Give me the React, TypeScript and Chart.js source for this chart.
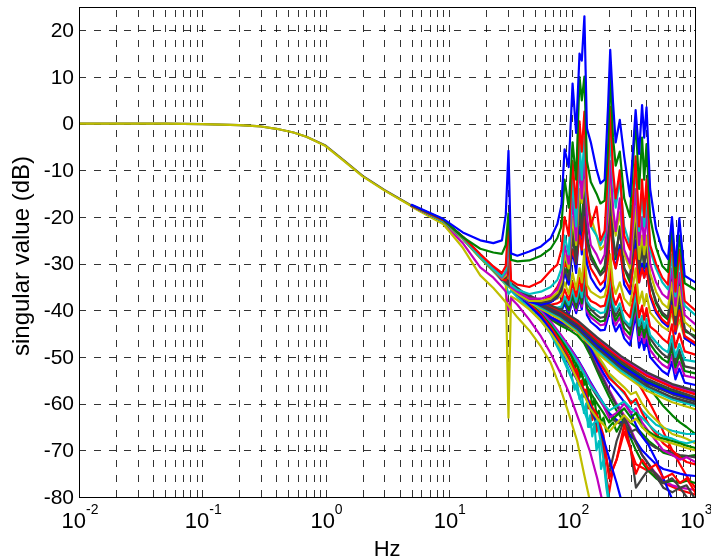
import { useEffect, useRef } from "react";
import { Chart, registerables } from "chart.js";

Chart.register(...registerables);

// ---------- axes ----------
const xMin = 0.01;
const xMax = 1000;
const yMin = -80;
const yMax = 25;
const yTicks = [20, 10, 0, -10, -20, -30, -40, -50, -60, -70, -80];
const xDecades = [0.01, 0.1, 1, 10, 100, 1000];
const xExponents = ["-2", "-1", "0", "1", "2", "3"];
const xTitle = "Hz";
const yTitle = "singular value (dB)";

// ---------- frequency grids (Hz) ----------
const FL = [0.01, 0.02, 0.05, 0.1, 0.2, 0.3, 0.4, 0.55, 0.7, 1, 1.4, 2, 3, 5];
const FB = [5, 9, 13, 18, 23, 30, 40, 56, 80, 110, 160, 250, 400, 650, 1000];
const FH = [5, 9, 13, 18, 23, 27, 29, 30.5, 32, 36, 45, 56, 67, 76, 82, 87, 94, 101, 108, 115, 120, 126, 132, 142, 158, 170, 184, 196, 204, 215, 226, 244, 265, 295, 328, 350, 370, 385, 402, 430, 480, 540, 600, 647, 690, 742, 820, 1000];
const FD = [5, 9, 13, 18, 23, 27, 29, 30.5, 32, 36, 45, 56, 67, 80, 95, 110, 125, 140, 160, 180, 200, 230, 265, 300, 330, 370, 420, 480, 550, 650, 750, 850, 1000];
const FN = [5, 9, 13, 18, 23, 30, 40, 56, 70, 85, 95, 100, 105, 110, 115, 120, 125, 130, 135, 140, 146, 152, 158, 165, 172, 180, 190, 200, 215, 230, 265, 330, 420, 550, 750, 1000];

// ---------- low-frequency common part (dB, on FL) ----------
const lowGray = [0, 0, 0, -0.1, -0.3, -0.6, -1.1, -1.9, -2.8, -4.7, -7.8, -11.2, -14.2, -17.6];
const lowYellow = [0, 0, 0, -0.1, -0.3, -0.6, -1.1, -1.9, -2.8, -4.8, -7.9, -11.3, -14.3, -17.7];

// ---------- upper singular values with resonances (dB, on FH) ----------
const upBlue = [-17.4, -20.4, -23.3, -25.0, -25.6, -25.0, -19.5, -5.8, -27.8, -28.3, -27.4, -26.3, -24.6, -21.5, -17.5, -5.5, -9.3, 8.6, -2.0, 15.0, 13.5, 23.0, -1.0, -4.0, -9.8, -12.8, -12.0, 3.7, 15.8, 4.5, -4.0, 0.8, -7.0, -15.6, 2.9, -6.5, 4.0, -3.0, 3.5, -14.0, -22.5, -27.0, -29.0, -20.0, -30.5, -20.3, -32.6, -34.0];
const upGreen = [-17.5, -20.5, -24.3, -26.8, -27.6, -27.9, -26.0, -19.2, -29.2, -29.5, -29.3, -28.3, -26.8, -24.5, -22.0, -12.0, -18.0, -4.0, -12.0, 10.0, 5.0, 10.1, -8.0, -12.5, -15.0, -17.1, -16.5, -5.0, 11.5, -3.0, -9.0, -6.0, -16.0, -20.0, 1.1, -14.0, -3.0, -12.0, -4.4, -20.0, -26.5, -30.5, -31.8, -21.4, -33.0, -24.0, -34.2, -35.6];
const upRed = [-17.6, -20.7, -24.3, -28.0, -30.6, -32.0, -30.5, -20.5, -33.6, -34.5, -35.0, -33.8, -31.5, -30.2, -27.0, -20.0, -24.0, -8.0, -18.0, 0.5, -6.0, 2.6, -14.0, -22.0, -17.8, -25.0, -23.0, -10.0, 3.6, -10.0, -16.0, -10.0, -24.0, -27.0, -7.0, -22.0, -12.0, -20.0, -12.0, -26.0, -30.0, -33.0, -34.5, -24.0, -36.0, -27.0, -38.0, -40.0];
const upCyan = [-17.6, -20.9, -24.5, -28.5, -31.2, -32.8, -31.5, -23.5, -34.6, -35.6, -36.5, -36.0, -35.0, -33.5, -31.0, -24.0, -28.0, -12.0, -22.0, -4.0, -12.0, -2.8, -16.0, -22.0, -24.0, -26.0, -24.0, -14.0, -2.0, -12.0, -18.0, -12.0, -22.0, -26.0, -9.0, -23.0, -15.0, -22.0, -15.0, -27.0, -31.0, -34.0, -35.5, -28.0, -37.0, -29.0, -39.0, -41.0];
const upMagenta = [-17.6, -20.8, -24.4, -28.4, -31.0, -33.0, -32.0, -25.0, -35.0, -36.0, -37.5, -37.5, -36.8, -35.5, -33.0, -26.0, -30.0, -16.0, -25.0, -8.0, -16.0, -6.0, -20.0, -26.0, -28.0, -30.0, -28.0, -18.0, -8.0, -18.0, -23.0, -16.0, -27.0, -30.0, -14.0, -26.0, -20.0, -26.0, -19.0, -30.0, -34.0, -36.5, -37.5, -31.0, -39.0, -32.0, -41.0, -43.0];
const upYellow = [-17.6, -20.9, -24.6, -28.6, -31.3, -33.2, -32.5, -26.0, -35.3, -36.5, -38.0, -38.0, -37.5, -36.2, -34.0, -28.0, -31.0, -20.0, -26.0, -14.0, -17.0, -12.0, -18.0, -20.0, -24.0, -27.0, -26.0, -20.0, -12.0, -20.0, -24.0, -19.0, -28.0, -31.0, -18.0, -29.0, -24.0, -28.0, -24.0, -32.0, -36.0, -38.5, -39.5, -34.0, -41.0, -35.0, -42.5, -44.5];
const upGray = [-17.6, -20.9, -24.5, -28.5, -31.2, -33.1, -33.0, -28.0, -35.0, -36.3, -37.8, -38.3, -38.0, -37.0, -35.5, -31.0, -33.5, -24.0, -30.0, -19.0, -23.0, -15.6, -25.0, -29.0, -31.0, -32.5, -31.5, -25.0, -14.0, -25.0, -28.0, -23.0, -31.0, -33.0, -22.0, -31.0, -27.0, -30.0, -27.0, -34.0, -38.0, -40.5, -41.5, -36.0, -43.0, -37.0, -44.0, -46.0];
const upRed2 = [-17.6, -20.8, -24.4, -28.3, -31.0, -33.4, -33.6, -31.0, -34.8, -36.3, -37.5, -38.2, -37.0, -35.0, -33.0, -30.0, -31.0, -27.0, -30.0, -24.0, -27.0, -20.0, -28.0, -31.0, -33.0, -34.5, -33.5, -29.0, -20.0, -29.0, -31.0, -27.0, -33.0, -35.5, -27.0, -34.0, -31.0, -33.0, -31.0, -36.5, -40.0, -42.0, -43.0, -39.0, -44.5, -40.0, -45.5, -47.0];
const upBlue2 = [-17.6, -20.8, -24.5, -28.4, -31.1, -33.5, -33.4, -30.0, -35.2, -36.6, -38.2, -38.8, -38.3, -37.2, -35.8, -32.0, -34.5, -27.0, -32.0, -22.0, -28.0, -18.0, -30.0, -33.0, -35.0, -36.0, -35.0, -28.0, -17.0, -28.0, -31.0, -26.0, -34.5, -36.5, -25.0, -34.0, -30.0, -33.0, -30.0, -37.0, -40.5, -42.5, -43.5, -37.0, -45.0, -39.0, -46.0, -47.5];
const upGreen2 = [-17.6, -20.9, -24.5, -28.5, -31.2, -33.4, -33.2, -29.0, -35.0, -36.4, -37.9, -38.5, -38.0, -36.5, -34.5, -29.0, -32.5, -22.0, -29.0, -16.0, -24.0, -10.0, -24.0, -28.0, -30.5, -32.0, -30.5, -24.0, -11.0, -24.0, -29.0, -22.0, -31.0, -34.0, -20.0, -32.0, -26.0, -31.0, -25.0, -34.0, -38.5, -41.0, -42.0, -33.0, -43.5, -34.0, -44.5, -45.5];

// ---------- middle singular values (dB, on FH) ----------
const midYellow = [-17.6, -20.9, -24.5, -28.5, -31.2, -33.2, -33.8, -32.0, -34.8, -36.0, -37.5, -38.3, -38.0, -37.5, -36.8, -34.0, -36.5, -32.0, -35.5, -31.0, -34.0, -27.0, -34.5, -36.0, -36.8, -37.3, -37.0, -34.0, -28.0, -34.5, -36.5, -34.0, -37.5, -39.0, -31.0, -38.5, -36.0, -39.0, -36.5, -40.5, -42.0, -43.5, -44.3, -40.0, -45.0, -42.0, -46.0, -47.0];
const midRed = [-17.6, -20.8, -24.4, -28.3, -31.0, -33.1, -33.7, -32.5, -34.7, -35.9, -37.4, -38.5, -38.8, -38.5, -38.0, -35.5, -37.8, -34.0, -37.0, -33.0, -35.8, -30.0, -36.8, -38.0, -38.6, -39.2, -39.0, -36.0, -31.0, -37.0, -38.8, -36.5, -40.0, -41.5, -34.5, -41.5, -39.0, -42.0, -39.5, -43.5, -44.5, -46.0, -47.0, -43.0, -48.0, -45.0, -48.8, -49.5];
const midCyan = [-17.6, -20.9, -24.5, -28.5, -31.2, -33.3, -33.9, -33.2, -34.9, -36.1, -37.6, -38.7, -39.3, -39.4, -39.2, -37.0, -38.8, -35.5, -38.2, -34.8, -37.2, -31.5, -38.0, -39.3, -40.0, -40.6, -40.4, -37.5, -32.5, -38.5, -40.2, -38.5, -42.0, -43.3, -36.5, -43.3, -41.2, -43.8, -41.8, -45.3, -46.8, -48.2, -49.0, -45.5, -50.0, -47.2, -50.6, -51.0];
const midGray = [-17.6, -20.8, -24.4, -28.3, -31.0, -33.0, -33.6, -33.0, -34.6, -35.8, -37.3, -38.6, -39.3, -39.6, -39.5, -37.5, -39.2, -36.0, -38.8, -35.5, -37.5, -32.0, -38.5, -39.8, -41.0, -41.6, -41.4, -38.5, -33.5, -39.5, -41.2, -39.5, -42.5, -44.0, -37.5, -44.0, -42.0, -44.5, -42.5, -46.0, -47.8, -49.3, -50.2, -47.0, -51.2, -48.5, -52.0, -52.5];
const midGreen = [-17.6, -20.8, -24.4, -28.4, -31.1, -33.2, -33.8, -33.0, -34.8, -36.0, -37.6, -38.8, -39.5, -39.8, -39.8, -37.8, -40.0, -37.0, -39.5, -36.3, -38.5, -33.0, -39.5, -40.8, -41.8, -42.4, -42.2, -39.5, -35.0, -40.5, -42.2, -40.5, -43.8, -45.2, -38.5, -45.3, -43.2, -45.8, -43.5, -47.2, -49.0, -50.4, -51.2, -48.0, -52.2, -49.5, -53.0, -53.5];
const midMagenta = [-17.6, -20.8, -24.4, -28.4, -31.1, -33.2, -33.8, -32.8, -34.8, -36.0, -37.5, -38.7, -39.4, -39.6, -39.5, -37.2, -40.3, -37.5, -40.0, -37.0, -39.2, -34.0, -40.2, -41.5, -42.5, -43.2, -43.0, -40.5, -36.0, -41.5, -43.2, -41.5, -44.8, -46.2, -39.5, -46.5, -44.5, -47.0, -44.8, -48.5, -50.2, -51.6, -52.4, -49.5, -53.4, -51.0, -54.0, -54.5];
const midBlue = [-17.6, -20.8, -24.5, -28.4, -31.1, -33.3, -33.9, -33.5, -34.9, -36.1, -37.7, -39.0, -39.8, -40.3, -40.3, -38.5, -40.8, -38.0, -40.6, -37.5, -39.8, -34.5, -41.0, -42.5, -43.5, -44.3, -44.2, -41.5, -37.0, -42.8, -44.5, -43.0, -46.0, -47.5, -41.0, -48.0, -46.0, -48.5, -46.2, -50.0, -51.5, -53.0, -53.8, -51.0, -54.8, -52.5, -55.5, -56.0];

// ---------- main smooth bundle (dB, on FB) ----------
const bun1 = [-17.6, -20.7, -24.2, -28.0, -30.7, -33.6, -36.1, -38.0, -39.8, -42.1, -45.8, -49.8, -53.2, -55.8, -57.2];
const bun2 = [-17.6, -20.8, -24.4, -28.3, -31.0, -34.0, -36.5, -38.6, -40.6, -43.1, -47.0, -51.0, -54.6, -57.0, -58.6];
const bun3 = [-17.6, -20.9, -24.6, -28.6, -31.3, -34.4, -37.0, -39.1, -41.2, -43.9, -48.1, -52.4, -56.1, -58.6, -60.0];
const bun4 = [-17.6, -20.8, -24.5, -28.4, -31.2, -34.2, -36.8, -38.9, -40.9, -43.5, -47.6, -51.8, -55.3, -57.7, -59.1];
const bun5 = [-17.6, -20.7, -24.3, -28.1, -30.8, -33.8, -36.3, -38.3, -40.2, -42.6, -46.5, -50.6, -54.0, -56.5, -58.0];
const bun6 = [-17.6, -20.8, -24.4, -28.3, -31.1, -34.1, -36.7, -38.7, -40.7, -43.2, -47.3, -51.5, -55.0, -57.4, -58.9];
const bun7 = [-17.6, -20.7, -24.3, -28.2, -30.9, -33.9, -36.4, -38.4, -40.3, -42.4, -46.2, -50.2, -53.7, -56.2, -57.7];
const bun8 = [-17.6, -20.9, -24.6, -28.7, -31.5, -34.6, -37.2, -39.4, -41.5, -44.2, -48.6, -52.9, -56.6, -59.1, -60.5];
const bun9 = [-17.6, -21.0, -24.7, -28.8, -31.6, -34.8, -37.4, -39.7, -41.9, -44.6, -49.1, -53.4, -57.2, -59.7, -61.2];
const bun10 = [-17.6, -20.9, -24.5, -28.5, -31.2, -34.3, -36.9, -39.0, -41.1, -43.7, -47.9, -52.1, -55.6, -58.0, -59.5];
const bun11 = [-17.6, -20.8, -24.3, -28.2, -30.9, -33.8, -36.3, -38.2, -40.0, -42.3, -46.0, -50.0, -53.4, -56.0, -57.5];
const bun12 = [-17.6, -20.9, -24.5, -28.5, -31.3, -34.5, -37.1, -39.2, -41.3, -44.0, -48.3, -52.6, -56.3, -58.8, -60.2];

// ---------- lower singular values (dB, on FD; shorter ones leave the axes) ----------
const lowA = [-17.8, -21.5, -26.6, -32.5, -35.2, -37.3, -38.3, -39.0, -39.8, -41.5, -44.3, -47.8, -51.2, -56.5, -62.5, -68.0, -75.0, -81.0];
const lowB = [-17.7, -21.3, -25.6, -30.8, -33.0, -35.0, -36.0, -40.0, -37.4, -38.8, -42.0, -45.6, -49.2, -53.3, -57.8, -62.5, -66.5, -70.3, -76.0, -82.0];
const lowC = [-17.6, -20.9, -24.6, -28.6, -31.3, -33.2, -34.0, -63.0, -37.0, -37.8, -39.8, -42.3, -44.8, -47.8, -51.3, -54.8, -58.0, -61.0, -63.2, -64.5, -66.0, -64.2, -62.5, -64.0, -63.2, -65.0, -66.5, -67.5, -68.0, -68.5, -69.0, -69.5, -70.0];
const lowD = [-17.6, -20.9, -24.7, -28.8, -31.6, -33.6, -34.5, -36.5, -35.8, -37.2, -39.6, -42.2, -45.0, -49.0, -53.5, -57.2, -61.5, -65.0, -63.5, -72.0, -81.0];
const lowE = [-17.6, -20.9, -24.5, -28.5, -31.3, -33.4, -34.2, -35.0, -35.0, -36.5, -39.0, -41.4, -44.2, -47.6, -51.6, -55.0, -57.6, -60.5, -64.0, -67.5, -71.7, -77.0, -83.0];
const lowF = [-17.6, -20.8, -24.5, -28.4, -31.2, -33.3, -34.1, -34.6, -34.9, -36.3, -38.6, -41.0, -43.6, -46.6, -50.0, -54.0, -57.0, -60.0, -62.5, -66.8, -76.0, -72.0, -64.5, -70.0, -75.0, -72.0, -74.0, -73.0, -76.0, -75.0, -77.0, -76.0, -79.0];
const lowG = [-17.6, -20.8, -24.5, -28.5, -31.3, -33.4, -34.2, -34.8, -35.0, -36.5, -39.0, -41.5, -44.0, -47.2, -50.5, -54.0, -57.5, -61.0, -64.5, -68.0, -75.0, -68.0, -63.4, -70.0, -78.0, -76.0, -74.0, -75.0, -77.0, -76.0, -78.0, -77.5, -80.5];
const lowH = [-17.6, -20.8, -24.4, -28.4, -31.2, -33.3, -34.1, -34.6, -34.8, -36.2, -38.4, -40.8, -43.2, -46.0, -49.0, -52.0, -55.0, -57.5, -60.0, -62.0, -64.0, -62.5, -61.0, -63.0, -62.0, -65.0, -66.0, -67.0, -67.5, -68.0, -68.5, -69.0, -69.5];
const lowI = [-17.6, -20.8, -24.5, -28.4, -31.2, -33.3, -34.1, -34.6, -34.9, -36.2, -38.3, -40.6, -42.9, -45.6, -48.4, -51.0, -53.5, -56.0, -58.0, -60.0, -61.5, -60.5, -59.5, -61.0, -62.0, -63.0, -64.5, -66.0, -67.0, -67.5, -68.2, -68.5, -68.0];
const lowJ = [-17.6, -20.8, -24.4, -28.3, -31.1, -33.2, -34.0, -34.5, -34.7, -36.0, -38.0, -40.2, -42.4, -45.0, -47.8, -50.5, -53.0, -55.5, -58.0, -60.5, -63.0, -62.0, -60.0, -62.0, -61.0, -64.0, -66.0, -68.0, -70.0, -71.0, -72.0, -71.5, -72.5];
const lowK = [-17.6, -20.8, -24.4, -28.3, -31.0, -33.1, -33.9, -34.3, -34.5, -35.9, -38.0, -39.8, -41.5, -42.5, -43.2, -43.8, -45.5, -48.0, -51.0, -53.5, -55.5, -57.5, -59.6, -62.0, -64.5, -67.0, -69.0, -72.0, -76.0, -80.5];
const lowL = [-17.6, -20.8, -24.4, -28.3, -31.0, -33.1, -33.9, -34.3, -34.5, -35.9, -38.0, -39.9, -41.7, -42.8, -43.6, -44.3, -46.0, -49.0, -52.5, -55.0, -57.5, -60.5, -63.0, -66.0, -68.5, -71.0, -73.0, -75.5, -78.0, -79.0, -78.0, -80.0, -82.0];
const lowM = [-17.6, -20.8, -24.4, -28.3, -31.0, -33.1, -33.9, -34.3, -34.5, -35.9, -37.9, -39.7, -41.4, -42.4, -43.2, -44.2, -46.0, -48.2, -50.5, -52.5, -54.5, -56.0, -57.5, -60.0, -59.0, -62.0, -64.5, -66.5, -68.5, -70.0, -71.5, -72.5, -73.0];
const lowN = [-17.6, -20.8, -24.4, -28.3, -31.0, -33.1, -33.9, -34.3, -34.5, -35.9, -37.9, -39.7, -41.4, -42.4, -43.0, -43.8, -45.0, -47.0, -49.5, -51.5, -53.5, -55.0, -56.5, -58.0, -57.5, -60.0, -62.0, -63.5, -65.0, -66.5, -67.0, -67.5, -68.5];
const lowP = [-17.6, -20.8, -24.5, -28.4, -31.2, -33.3, -34.1, -34.7, -34.9, -36.3, -38.5, -40.9, -43.3, -46.0, -48.0, -51.0, -53.5, -56.0, -58.5, -60.5, -62.5, -64.0, -64.5, -66.0, -65.5, -67.0, -68.5, -69.5, -70.0, -70.5, -71.0, -71.2, -71.5];
const lowQ = [-17.6, -20.8, -24.4, -28.3, -31.1, -33.2, -34.0, -34.5, -34.7, -36.1, -38.2, -40.5, -42.8, -45.3, -47.8, -50.3, -52.8, -55.2, -57.8, -60.0, -62.0, -63.5, -64.5, -67.0, -68.0, -70.0, -71.5, -73.0, -74.0, -74.5, -75.0, -75.3, -75.5];
const lowR = [-17.6, -20.8, -24.4, -28.3, -31.0, -33.1, -33.9, -34.3, -34.5, -35.9, -38.0, -40.0, -41.9, -43.2, -44.2, -45.3, -47.0, -49.5, -53.0, -56.0, -58.5, -61.5, -64.0, -67.5, -70.0, -72.5, -74.5, -76.0, -77.0, -76.5, -77.0, -76.5, -77.0];
const lowS = [-17.6, -20.8, -24.4, -28.3, -31.0, -33.1, -33.9, -34.3, -34.5, -35.9, -37.9, -39.8, -41.6, -42.7, -43.5, -44.4, -45.8, -47.5, -49.8, -52.0, -54.0, -56.0, -57.8, -59.5, -59.8, -61.5, -63.0, -64.5, -65.2, -65.8, -66.2, -66.5, -66.5];
const lowT = [-17.6, -20.8, -24.4, -28.3, -31.0, -33.1, -33.9, -34.3, -34.5, -35.9, -37.9, -39.8, -41.6, -42.8, -43.7, -44.6, -46.2, -48.5, -51.5, -54.5, -57.0, -60.0, -62.5, -65.5, -68.0, -71.0, -73.0, -75.0, -76.5, -77.5, -78.0, -78.2, -78.5];
const lowU = [-17.6, -20.8, -24.4, -28.3, -31.0, -32.9, -33.7, -34.1, -34.4, -35.5, -37.3, -38.6, -39.6, -40.5, -41.7, -43.0, -44.3, -45.5, -47.0, -48.1, -49.0, -50.3, -51.5, -53.5, -55.0, -57.0, -59.5, -62.5, -66.0, -70.0, -73.0, -75.5, -78.0];
const lowV = [-17.6, -20.8, -24.4, -28.3, -31.0, -32.9, -33.7, -34.1, -34.4, -35.5, -37.3, -38.6, -39.6, -40.6, -41.8, -43.1, -44.4, -45.7, -47.2, -48.4, -49.5, -50.7, -51.8, -52.6, -53.5, -54.5, -56.5, -58.5, -60.5, -62.5, -64.0, -65.0, -66.5];

// ---------- noisy lower singular values (dB, on FN) ----------
const noisyCyan = [-17.6, -20.9, -24.6, -28.7, -31.5, -34.5, -37.5, -41.5, -45.5, -50.0, -53.0, -54.5, -57.0, -55.5, -59.0, -58.0, -62.0, -60.0, -65.0, -62.5, -67.0, -64.5, -70.0, -68.0, -74.0, -72.0, -78.0, -82.0];
const noisyRed = [-17.6, -20.8, -24.5, -28.5, -31.3, -34.3, -37.2, -40.8, -44.0, -47.5, -50.5, -51.5, -54.0, -52.5, -56.0, -55.0, -58.5, -57.0, -61.0, -59.5, -63.5, -61.5, -66.0, -64.0, -66.8, -70.0, -76.0, -79.0, -74.0, -72.0, -66.0, -73.0, -74.5, -77.0, -78.5, -79.5];
const noisyGreen = [-17.6, -20.8, -24.5, -28.4, -31.2, -34.2, -37.0, -40.3, -43.2, -46.5, -49.0, -50.0, -52.5, -51.0, -54.5, -53.0, -56.0, -54.5, -58.5, -57.0, -60.5, -59.0, -62.5, -61.5, -64.0, -63.0, -66.0, -65.0, -64.0, -66.0, -63.0, -65.0, -68.0, -70.5, -71.5, -71.0];

// ---------- colours (MATLAB default line cycle) ----------
const C = {
  b: "#0000ff",
  g: "#008000",
  r: "#ff0000",
  c: "#00bfbf",
  m: "#bf00bf",
  y: "#bfbf00",
  k: "#404040",
};

type Series = { col: string; xs: number[]; ys: number[] };

// first entries are drawn on top
const SERIES: Series[] = [
  { col: C.b, xs: FH, ys: upBlue },
  { col: C.g, xs: FH, ys: upGreen },
  { col: C.r, xs: FH, ys: upRed },
  { col: C.c, xs: FH, ys: upCyan },
  { col: C.m, xs: FH, ys: upMagenta },
  { col: C.y, xs: FH, ys: upYellow },
  { col: C.k, xs: FH, ys: upGray },
  { col: C.r, xs: FH, ys: upRed2 },
  { col: C.b, xs: FH, ys: upBlue2 },
  { col: C.g, xs: FH, ys: upGreen2 },
  { col: C.k, xs: FB, ys: bun1 },
  { col: C.k, xs: FB, ys: bun2 },
  { col: C.k, xs: FB, ys: bun3 },
  { col: C.b, xs: FB, ys: bun4 },
  { col: C.r, xs: FB, ys: bun5 },
  { col: C.g, xs: FB, ys: bun6 },
  { col: C.m, xs: FB, ys: bun7 },
  { col: C.c, xs: FB, ys: bun8 },
  { col: C.y, xs: FB, ys: bun9 },
  { col: C.k, xs: FB, ys: bun10 },
  { col: C.k, xs: FB, ys: bun11 },
  { col: C.k, xs: FB, ys: bun12 },
  { col: C.y, xs: FH, ys: midYellow },
  { col: C.r, xs: FH, ys: midRed },
  { col: C.c, xs: FH, ys: midCyan },
  { col: C.k, xs: FH, ys: midGray },
  { col: C.g, xs: FH, ys: midGreen },
  { col: C.m, xs: FH, ys: midMagenta },
  { col: C.b, xs: FH, ys: midBlue },
  { col: C.y, xs: FD, ys: lowA },
  { col: C.m, xs: FD, ys: lowB },
  { col: C.y, xs: FD, ys: lowC },
  { col: C.c, xs: FD, ys: lowD },
  { col: C.b, xs: FD, ys: lowE },
  { col: C.r, xs: FD, ys: lowF },
  { col: C.k, xs: FD, ys: lowG },
  { col: C.g, xs: FD, ys: lowH },
  { col: C.c, xs: FD, ys: lowI },
  { col: C.m, xs: FD, ys: lowJ },
  { col: C.b, xs: FD, ys: lowK },
  { col: C.k, xs: FD, ys: lowL },
  { col: C.r, xs: FD, ys: lowM },
  { col: C.y, xs: FD, ys: lowN },
  { col: C.k, xs: FD, ys: lowP },
  { col: C.b, xs: FD, ys: lowQ },
  { col: C.g, xs: FD, ys: lowR },
  { col: C.c, xs: FD, ys: lowS },
  { col: C.m, xs: FD, ys: lowT },
  { col: C.r, xs: FD, ys: lowU },
  { col: C.g, xs: FD, ys: lowV },
  { col: C.c, xs: FN, ys: noisyCyan },
  { col: C.r, xs: FN, ys: noisyRed },
  { col: C.g, xs: FN, ys: noisyGreen },
  { col: C.y, xs: FL, ys: lowYellow },
  { col: C.k, xs: FL, ys: lowGray },
];

const FONT = "'Liberation Sans', Arial, Helvetica, sans-serif";

const matlabAxes = {
  id: "matlabAxes",
  beforeDatasetsDraw(chart: any) {
    const { ctx, chartArea: a, scales } = chart;
    const xs = scales.x;
    const ys = scales.y;
    ctx.save();
    ctx.strokeStyle = "rgba(0,0,0,0.8)";
    ctx.lineWidth = 1;
    ctx.setLineDash([7, 8]);
    for (let i = 0; i < xDecades.length - 1; i++) {
      for (let k = 1; k <= 9; k++) {
        const px = Math.round(xs.getPixelForValue(xDecades[i] * k)) + 0.5;
        if (px < a.left + 2) continue;
        ctx.beginPath();
        ctx.moveTo(px, a.bottom);
        ctx.lineTo(px, a.top);
        ctx.stroke();
      }
    }
    for (const v of yTicks) {
      if (v <= yMin || v >= yMax) continue;
      const py = Math.round(ys.getPixelForValue(v)) + 0.5;
      ctx.beginPath();
      ctx.moveTo(a.left, py);
      ctx.lineTo(a.right, py);
      ctx.stroke();
    }
    ctx.restore();
  },
  afterDraw(chart: any) {
    const { ctx, chartArea: a, scales } = chart;
    const xs = scales.x;
    const ys = scales.y;
    ctx.save();
    ctx.setLineDash([]);
    ctx.strokeStyle = "#000";
    ctx.lineWidth = 1;
    const l = Math.round(a.left) + 0.5;
    const t = Math.round(a.top) + 0.5;
    const r = Math.round(a.right) + 0.5;
    const b = Math.round(a.bottom) + 0.5;
    ctx.strokeRect(l, t, r - l, b - t);

    ctx.fillStyle = "#000";
    // y tick labels
    ctx.font = `21px ${FONT}`;
    ctx.textAlign = "right";
    ctx.textBaseline = "middle";
    for (const v of yTicks) {
      ctx.fillText(String(v), a.left - 5, ys.getPixelForValue(v) + 1);
    }
    // x tick labels 10^n
    ctx.textBaseline = "alphabetic";
    ctx.textAlign = "left";
    xDecades.forEach((d, i) => {
      const px = xs.getPixelForValue(d);
      ctx.font = `22px ${FONT}`;
      const wb = ctx.measureText("10").width;
      ctx.font = `14px ${FONT}`;
      const we = ctx.measureText(xExponents[i]).width;
      const x0 = px - (wb + we) / 2 + 1;
      ctx.font = `22px ${FONT}`;
      ctx.fillText("10", x0, a.bottom + 31);
      ctx.font = `14px ${FONT}`;
      ctx.fillText(xExponents[i], x0 + wb, a.bottom + 17);
    });
    // axis titles
    ctx.font = `22px ${FONT}`;
    ctx.textAlign = "center";
    ctx.fillText(xTitle, (a.left + a.right) / 2, a.bottom + 59);
    ctx.font = `24px ${FONT}`;
    ctx.translate(22, (a.top + a.bottom) / 2 + 4);
    ctx.rotate(-Math.PI / 2);
    ctx.textBaseline = "middle";
    ctx.fillText(yTitle, 0, 0);
    ctx.restore();
  },
};

export default function App() {
  const ref = useRef<HTMLCanvasElement | null>(null);
  useEffect(() => {
    const canvas = ref.current;
    if (!canvas) return;
    const datasets = SERIES.map((s) => ({
      data: s.ys.map((y, i) => ({ x: s.xs[i], y })),
      borderColor: s.col,
      backgroundColor: s.col,
      borderWidth: 2.2,
      pointRadius: 0,
      tension: 0,
      fill: false,
      borderJoinStyle: "round" as const,
      borderCapStyle: "round" as const,
    }));
    const chart = new Chart(canvas, {
      type: "line",
      data: { datasets },
      options: {
        animation: false,
        responsive: false,
        devicePixelRatio: 1,
        events: [],
        layout: { padding: { left: 79, right: 15.7, top: 7, bottom: 61 } },
        plugins: {
          legend: { display: false },
          tooltip: { enabled: false },
          title: { display: false },
        },
        scales: {
          x: { type: "logarithmic", min: xMin, max: xMax, display: false },
          y: { type: "linear", min: yMin, max: yMax, display: false },
        },
      },
      plugins: [matlabAxes],
    });
    return () => chart.destroy();
  }, []);
  return (
    <div style={{ position: "absolute", left: 0, top: 0, width: 711, height: 558, background: "#fff" }}>
      <canvas ref={ref} width={711} height={558} style={{ display: "block" }} />
    </div>
  );
}
